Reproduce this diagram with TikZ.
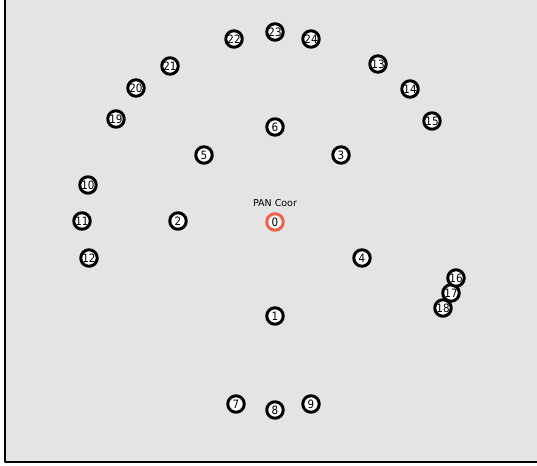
\documentclass[tikz,border=0pt]{standalone}
\usepackage{fontspec}
\setmainfont{DejaVu Sans}
\newfontfamily\narrowfont{DejaVu Sans Condensed}
\definecolor{bggray}{RGB}{228,228,228}
\definecolor{pancol}{RGB}{240,96,72}
\tikzset{
  joint/.style={circle, draw=black, line width=3pt, fill=white, inner sep=0pt, minimum size=16.5pt, font=\narrowfont\fontsize{11.5}{11}\selectfont},
  pan/.style={joint, draw=pancol}
}
\begin{document}
\begin{tikzpicture}[x=1pt, y=-1pt, line join=round, line cap=round]
			\useasboundingbox (0,0) rectangle (537,465);
			\fill[bggray] (5,0) rectangle (537,462);
			\draw[line width=2pt] (5,0)--(5,462)--(537,462);
			\node[pan] (n0) at (275,222) {0};
			\node[font=\fontsize{9.5}{9}\selectfont] (panlbl) at (275,203) {PAN Coor};
			\foreach \i/\x/\y in {1/275/316, 2/178/221, 3/341/155, 4/362/258, 5/204/155, 6/275/127,
				7/236/404, 8/275/410, 9/311/404, 10/88/185, 11/82/221, 12/89/258,
				13/378/64, 14/410/89, 15/432/121, 19/116/119, 20/136/88, 21/170/66,
				22/234/39, 23/275/32, 24/311/39}
				\node[joint] (n\i) at (\x,\y) {\i};
			\node[joint] (n18) at (443,308) {18};
			\node[joint] (n17) at (451,293) {17};
			\node[joint] (n16) at (456,278) {16};
		\end{tikzpicture}
\end{document}
